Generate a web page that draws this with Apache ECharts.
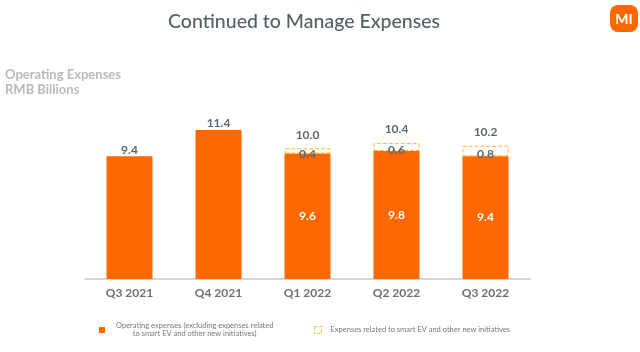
<!DOCTYPE html>
<html>
<head>
<meta charset="utf-8">
<script src="https://cdn.jsdelivr.net/npm/echarts@6/dist/echarts.min.js"></script>
<style>
html, body { margin: 0; padding: 0; background: #fff; }
#main { width: 640px; height: 352px; }
</style>
</head>
<body>
<div id="main"></div>
<script>
var categories = ['Q3 2021', 'Q4 2021', 'Q1 2022', 'Q2 2022', 'Q3 2022'];
var opex = [9.4, 11.4, 9.6, 9.8, 9.4];
var evExpenses = [null, null, 0.4, 0.6, 0.8];
var totals = [9.4, 11.4, 10.0, 10.4, 10.2];
var opexName = 'Operating expenses (excluding expenses related\nto smart EV and other new initiatives)';
var evName = 'Expenses related to smart EV and other new initiatives';

var orange = '#ff6700';
var font = 'Lato';
var grey = '#5f6770';

var myChart = echarts.init(document.getElementById('main'));
var option = {
    animation: false,
    textStyle: { fontFamily: font },
    title: [{
        text: 'Continued to Manage Expenses',
        left: 299, top: 7, textAlign: 'center',
        textStyle: { fontFamily: font, fontSize: 19.5, fontWeight: 500, color: '#56606a' }
    }, {
        text: 'Operating Expenses\nRMB Billions',
        left: 0, top: 62,
        textStyle: { fontFamily: font, fontSize: 13, fontWeight: 'bold', color: '#b8babd', lineHeight: 15 }
    }],
    grid: { left: 85, right: 110, top: 83, bottom: 73 },
    xAxis: {
        type: 'category',
        data: categories,
        axisTick: { show: false },
        axisLine: { lineStyle: { color: '#c8c8c8', width: 1.5 } },
        axisLabel: { color: '#6b6f75', fontSize: 12, fontWeight: 'bold', margin: 8 }
    },
    yAxis: { type: 'value', min: 0, max: 15, show: false },
    legend: [{
        data: [opexName],
        left: 99, top: 322,
        padding: 0,
        itemWidth: 6, itemHeight: 6, itemGap: 0,
        icon: 'rect',
        formatter: function (name) {
            return name.split('\n').map(function (s) { return '{a|' + s + '}'; }).join('\n');
        },
        textStyle: {
            padding: [0, 0, 0, 6],
            rich: { a: { fontSize: 7.5, color: '#777', lineHeight: 8, align: 'center' } }
        }
    }, {
        data: [evName],
        left: 314, top: 326,
        padding: 0,
        itemWidth: 7, itemHeight: 7,
        icon: 'rect',
        itemStyle: { color: '#fff', borderColor: '#fdb92e', borderWidth: 1, borderType: [3, 2] },
        textStyle: { fontSize: 7.5, color: '#777', padding: [0, 0, 0, 4] }
    }],
    series: [{
        name: opexName,
        type: 'bar',
        stack: 'a',
        barWidth: 46,
        color: orange,
        data: opex,
        label: {
            show: true,
            position: 'inside',
            color: '#fff',
            fontSize: 12,
            fontWeight: 'bold',
            formatter: function (p) { return evExpenses[p.dataIndex] == null ? '' : p.value.toFixed(1); }
        }
    }, {
        name: evName,
        type: 'bar',
        stack: 'a',
        barWidth: 46,
        color: '#fff',
        itemStyle: { color: '#fff', borderColor: '#fdb92e', borderWidth: 1, borderType: 'dashed' },
        data: evExpenses,
        z: 3,
        label: {
            show: true,
            position: 'inside',
            offset: [0, 3],
            color: grey,
            fontSize: 12,
            fontWeight: 'bold',
            formatter: function (p) { return p.value.toFixed(1); }
        }
    }, {
        name: 'Total',
        type: 'line',
        // the two plain bars sit closer to their totals than the stacked ones
        data: totals.map(function (v, i) {
            return { value: v, label: { distance: i < 2 ? 0 : 7 } };
        }),
        symbol: 'circle',
        symbolSize: 1,
        itemStyle: { color: 'rgba(0,0,0,0)' },
        lineStyle: { width: 0, color: 'rgba(0,0,0,0)' },
        z: 5,
        label: {
            show: true,
            position: 'top',
            color: grey,
            fontSize: 12,
            fontWeight: 'bold',
            formatter: function (p) { return p.value.toFixed(1); }
        }
    }],
    graphic: [{
        type: 'rect',
        shape: { x: 610, y: 5, width: 28, height: 27, r: 8 },
        style: { fill: orange }
    }, {
        type: 'text',
        x: 624, y: 19,
        style: { text: 'MI', fill: '#fff', font: 'bold 14px Lato', align: 'center', verticalAlign: 'middle' }
    }]
};
myChart.setOption(option);
</script>
</body>
</html>
